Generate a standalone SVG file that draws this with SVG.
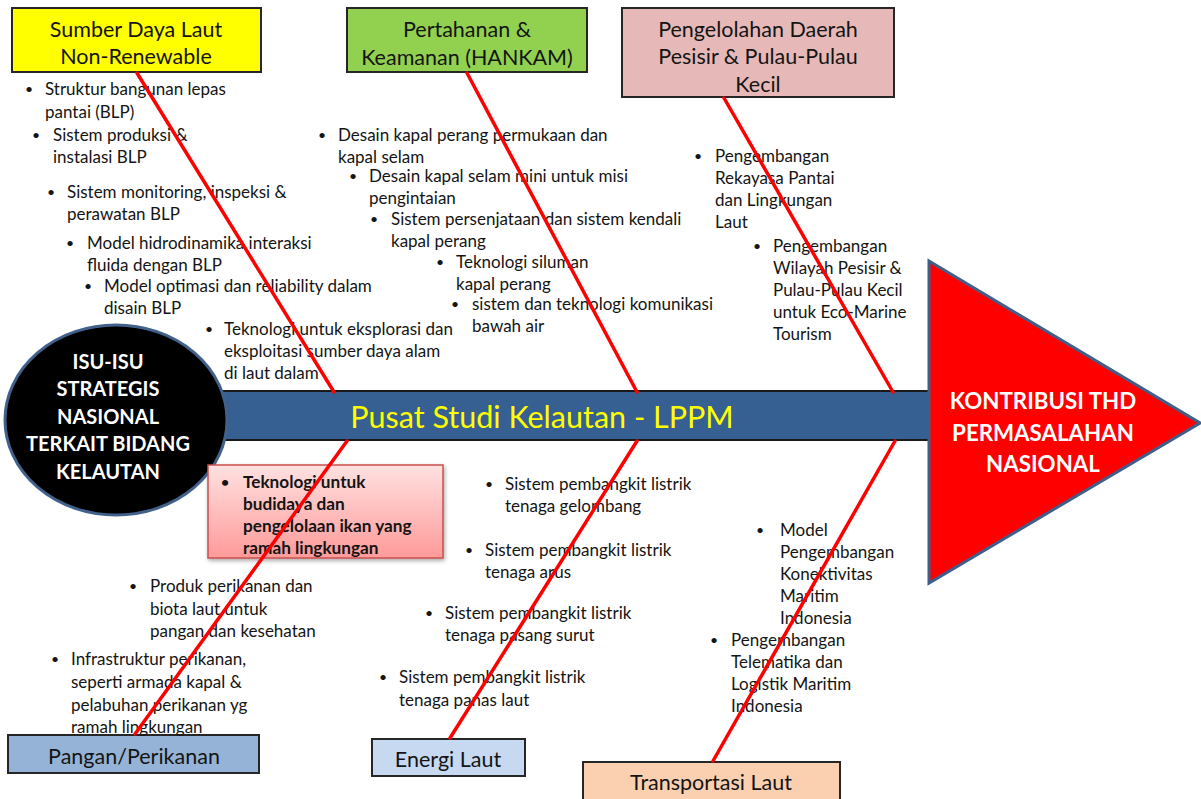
<svg xmlns="http://www.w3.org/2000/svg" width="1201" height="799" viewBox="0 0 1201 799">
<defs>
<style>
.t{font-family:Lato,"Liberation Sans",sans-serif;font-size:17px;fill:#141414}
.bu{font-family:Lato,"Liberation Sans",sans-serif;font-size:14px;fill:#141414}
.hd{font-family:Lato,"Liberation Sans",sans-serif;font-size:21.5px;fill:#141414;text-anchor:middle}
.wb{font-family:Lato,"Liberation Sans",sans-serif;font-weight:bold;fill:#ffffff;text-anchor:middle}
.box{stroke:#262626;stroke-width:2}
.bone{stroke:#FF0000;stroke-width:3.5;fill:none;stroke-linecap:round}
.b{font-weight:bold}
</style>
<linearGradient id="pinkg" x1="0" y1="0" x2="0" y2="1">
<stop offset="0" stop-color="#FFE1E1"/>
<stop offset="1" stop-color="#FF9A9A"/>
</linearGradient>
<filter id="sh" x="-10%" y="-10%" width="130%" height="130%">
<feDropShadow dx="1" dy="2" stdDeviation="2" flood-color="#000" flood-opacity="0.35"/>
</filter>
</defs>
<rect width="1201" height="799" fill="#ffffff"/>

<g id="spine">
<rect x="200" y="391" width="740" height="49" fill="#376092" stroke="#1a1a1a" stroke-width="2"/>
<text x="542" y="428" text-anchor="middle" style="font-family:Lato,'Liberation Sans',sans-serif;font-size:30.5px;fill:#FFFF00">Pusat Studi Kelautan - LPPM</text>
</g>

<g id="head-isu">
<ellipse cx="116" cy="420" rx="111" ry="95" fill="#000000" stroke="#41608A" stroke-width="3"/>
<text class="wb" style="font-size:20px"><tspan x="108" y="369">ISU-ISU</tspan><tspan x="108" y="396">STRATEGIS</tspan><tspan x="108" y="424">NASIONAL</tspan><tspan x="108" y="451">TERKAIT BIDANG</tspan><tspan x="108" y="479">KELAUTAN</tspan></text>
</g>

<g id="tail-kontribusi">
<polygon points="929,261 1200,423 929,583" fill="#FF0000" stroke="#3E5F8A" stroke-width="3" stroke-linejoin="miter"/>
<text class="wb" style="font-size:22.3px"><tspan x="1043" y="409">KONTRIBUSI THD</tspan><tspan x="1043" y="441">PERMASALAHAN</tspan><tspan x="1043" y="472">NASIONAL</tspan></text>
</g>

<g id="cat-sumber-daya">
<rect class="box" x="12" y="8" width="249" height="64" fill="#FFFF00"/>
<text class="hd"><tspan x="136" y="37">Sumber Daya Laut</tspan><tspan x="136" y="64">Non-Renewable</tspan></text>
</g>

<g id="cat-hankam">
<rect class="box" x="347" y="8" width="240" height="64" fill="#92D050"/>
<text class="hd"><tspan x="467" y="37">Pertahanan &amp;</tspan><tspan x="467" y="65">Keamanan (HANKAM)</tspan></text>
</g>

<g id="cat-pesisir">
<rect class="box" x="622" y="8" width="272" height="89" fill="#E6B9B8"/>
<text class="hd"><tspan x="758" y="37">Pengelolahan Daerah</tspan><tspan x="758" y="64">Pesisir &amp; Pulau-Pulau</tspan><tspan x="758" y="92">Kecil</tspan></text>
</g>

<g id="cat-pangan">
<rect class="box" x="8" y="735" width="251" height="38" fill="#95B3D7"/>
<text class="hd" x="134" y="764">Pangan/Perikanan</text>
</g>

<g id="cat-energi">
<rect class="box" x="372" y="739" width="153" height="37" fill="#C6D9F1"/>
<text class="hd" x="448" y="767">Energi Laut</text>
</g>

<g id="cat-transportasi">
<rect class="box" x="583" y="762" width="257" height="40" fill="#FAD0B0"/>
<text class="hd" x="711" y="790">Transportasi Laut</text>
</g>

<g id="items-sumber-daya">
<text class="bu" x="25" y="94">•</text><text class="t"><tspan x="45" y="95">Struktur bangunan lepas</tspan><tspan x="45" y="118">pantai (BLP)</tspan></text>
<text class="bu" x="32" y="140">•</text><text class="t"><tspan x="53" y="141">Sistem produksi &amp;</tspan><tspan x="53" y="163">instalasi BLP</tspan></text>
<text class="bu" x="47" y="197">•</text><text class="t"><tspan x="67" y="198">Sistem monitoring, inspeksi &amp;</tspan><tspan x="67" y="220">perawatan BLP</tspan></text>
<text class="bu" x="66" y="248">•</text><text class="t"><tspan x="87" y="249">Model hidrodinamika interaksi</tspan><tspan x="87" y="271">fluida dengan BLP</tspan></text>
<text class="bu" x="84" y="291">•</text><text class="t"><tspan x="104" y="292">Model optimasi dan reliability dalam</tspan><tspan x="104" y="314">disain BLP</tspan></text>
<text class="bu" x="205" y="334">•</text><text class="t"><tspan x="224" y="335">Teknologi untuk eksplorasi dan</tspan><tspan x="224" y="357">eksploitasi sumber daya alam</tspan><tspan x="224" y="379">di laut dalam</tspan></text>
</g>

<g id="items-hankam">
<text class="bu" x="318" y="140">•</text><text class="t"><tspan x="338" y="141">Desain kapal perang permukaan dan</tspan><tspan x="338" y="163">kapal selam</tspan></text>
<text class="bu" x="349" y="181">•</text><text class="t"><tspan x="369" y="182">Desain kapal selam mini untuk misi</tspan><tspan x="369" y="204">pengintaian</tspan></text>
<text class="bu" x="370" y="224">•</text><text class="t"><tspan x="391" y="225">Sistem persenjataan dan sistem kendali</tspan><tspan x="391" y="247">kapal perang</tspan></text>
<text class="bu" x="436" y="267">•</text><text class="t"><tspan x="456" y="268">Teknologi siluman</tspan><tspan x="456" y="290">kapal perang</tspan></text>
<text class="bu" x="451" y="309">•</text><text class="t"><tspan x="472" y="310">sistem dan teknologi komunikasi</tspan><tspan x="472" y="332">bawah air</tspan></text>
</g>

<g id="items-pesisir">
<text class="bu" x="694" y="161">•</text><text class="t"><tspan x="715" y="162">Pengembangan</tspan><tspan x="715" y="184">Rekayasa Pantai</tspan><tspan x="715" y="206">dan Lingkungan</tspan><tspan x="715" y="228">Laut</tspan></text>
<text class="bu" x="753" y="251">•</text><text class="t"><tspan x="773" y="252">Pengembangan</tspan><tspan x="773" y="274">Wilayah Pesisir &amp;</tspan><tspan x="773" y="296">Pulau-Pulau Kecil</tspan><tspan x="773" y="318">untuk Eco-Marine</tspan><tspan x="773" y="340">Tourism</tspan></text>
</g>

<g id="items-pangan">
<rect x="208" y="465" width="235" height="93" fill="url(#pinkg)" stroke="#C9504D" stroke-width="1.5" filter="url(#sh)"/>
<text class="bu b" x="221" y="487">•</text><text class="t b" style="font-size:17.2px"><tspan x="243" y="488">Teknologi untuk</tspan><tspan x="243" y="510">budidaya dan</tspan><tspan x="243" y="532">pengelolaan ikan yang</tspan><tspan x="243" y="554">ramah lingkungan</tspan></text>
<text class="bu" x="129" y="591">•</text><text class="t"><tspan x="150" y="592">Produk perikanan dan</tspan><tspan x="150" y="615">biota laut untuk</tspan><tspan x="150" y="637">pangan dan kesehatan</tspan></text>
<text class="bu" x="51" y="664">•</text><text class="t"><tspan x="71" y="665">Infrastruktur perikanan,</tspan><tspan x="71" y="688">seperti armada kapal &amp;</tspan><tspan x="71" y="711">pelabuhan perikanan yg</tspan><tspan x="71" y="733">ramah lingkungan</tspan></text>
</g>

<g id="items-energi">
<text class="bu" x="485" y="489">•</text><text class="t"><tspan x="505" y="490">Sistem pembangkit listrik</tspan><tspan x="505" y="512">tenaga gelombang</tspan></text>
<text class="bu" x="465" y="555">•</text><text class="t"><tspan x="485" y="556">Sistem pembangkit listrik</tspan><tspan x="485" y="578">tenaga arus</tspan></text>
<text class="bu" x="425" y="618">•</text><text class="t"><tspan x="445" y="619">Sistem pembangkit listrik</tspan><tspan x="445" y="641">tenaga pasang surut</tspan></text>
<text class="bu" x="379" y="682">•</text><text class="t"><tspan x="399" y="683">Sistem pembangkit listrik</tspan><tspan x="399" y="706">tenaga panas laut</tspan></text>
</g>

<g id="items-transportasi">
<text class="bu" x="756" y="535">•</text><text class="t"><tspan x="780" y="536">Model</tspan><tspan x="780" y="558">Pengembangan</tspan><tspan x="780" y="580">Konektivitas</tspan><tspan x="780" y="602">Maritim</tspan><tspan x="780" y="624">Indonesia</tspan></text>
<text class="bu" x="710" y="645">•</text><text class="t"><tspan x="731" y="646">Pengembangan</tspan><tspan x="731" y="668">Telematika dan</tspan><tspan x="731" y="690">Logistik Maritim</tspan><tspan x="731" y="712">Indonesia</tspan></text>
</g>

<g id="connectors">
<line class="bone" x1="137" y1="73" x2="334" y2="392"/>
<line class="bone" x1="467" y1="73" x2="637" y2="392"/>
<line class="bone" x1="724" y1="98" x2="893" y2="392"/>
<line class="bone" x1="347" y1="441" x2="135" y2="734"/>
<line class="bone" x1="637" y1="441" x2="450" y2="738"/>
<line class="bone" x1="895" y1="441" x2="713" y2="761"/>
</g>
</svg>
